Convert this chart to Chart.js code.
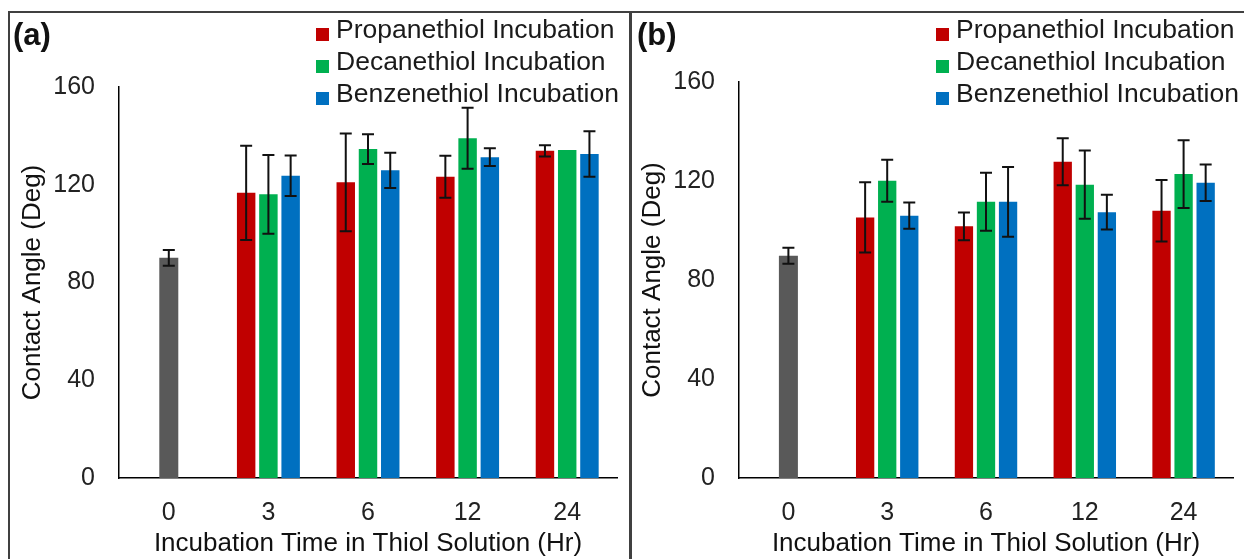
<!DOCTYPE html>
<html><head><meta charset="utf-8">
<script src="https://cdn.jsdelivr.net/npm/chart.js@4.4.1/dist/chart.umd.min.js"></script>
<style>
html,body{margin:0;padding:0;background:#fff;}
#wrap{position:relative;width:1244px;height:559px;overflow:hidden;background:#fff;font-family:'Liberation Sans',Arial,sans-serif;}
.panel{position:absolute;top:0;height:559px;}
.panel canvas{position:absolute;left:0;top:0;}
.lbl{position:absolute;font-weight:bold;font-size:31px;line-height:31px;color:#111;}
.leg{position:absolute;font-size:26.5px;line-height:32px;color:#1a1a1a;white-space:nowrap;}
.sw{position:absolute;width:13px;height:13px;}
.line{position:absolute;background:#404040;}
</style></head>
<body><div id="wrap">
 <div class="panel" id="pa" style="left:0;width:630px"><canvas id="ca" width="630" height="559"></canvas></div>
 <div class="panel" id="pb" style="left:620px;width:624px"><canvas id="cb" width="624" height="559"></canvas></div>
 <div class="line" style="left:8px;top:11px;width:1236px;height:2px"></div>
 <div class="line" style="left:8px;top:11px;width:2px;height:548px"></div>
 <div class="line" style="left:629px;top:11px;width:2.5px;height:548px"></div>
</div>
<script>
const categories = ['0', '3', '6', '12', '24'];
const seriesNames = ['Propanethiol Incubation', 'Decanethiol Incubation', 'Benzenethiol Incubation'];
const yTicks = [0, 40, 80, 120, 160];
const xTitle = 'Incubation Time in Thiol Solution (Hr)';
const yTitle = 'Contact Angle (Deg)';

// Panel (a)
const aBare    = [90.1, null, null, null, null];
const aBareErr = [3.2, null, null, null, null];
const aProp    = [null, 116.7, 121.0, 123.3, 133.9];
const aPropErr = [null, 19.3, 20.0, 8.6, 2.3];
const aDec     = [null, 116.1, 134.6, 139.0, 134.2];
const aDecErr  = [null, 16.1, 6.1, 12.5, null];
const aBen     = [null, 123.7, 125.9, 131.3, 132.6];
const aBenErr  = [null, 8.3, 7.2, 3.6, 9.3];

// Panel (b)
const bBare    = [89.8, null, null, null, null];
const bBareErr = [3.2, null, null, null, null];
const bProp    = [null, 105.3, 101.7, 127.8, 108.0];
const bPropErr = [null, 14.2, 5.6, 9.5, 12.4];
const bDec     = [null, 120.1, 111.6, 118.5, 122.8];
const bDecErr  = [null, 8.5, 11.7, 13.8, 13.7];
const bBen     = [null, 106.0, 111.6, 107.4, 119.3];
const bBenErr  = [null, 5.3, 14.1, 7.0, 7.4];

const colors = ['#C00000', '#00B050', '#0070C0'];
const bareColor = '#595959';
const FAM = "'Liberation Sans', Arial, sans-serif";

const errPlugin = {
  id: 'errbars',
  afterDatasetsDraw(chart) {
    const ctx = chart.ctx, y = chart.scales.y;
    chart.data.datasets.forEach((ds, i) => {
      if (!ds.errors) return;
      const meta = chart.getDatasetMeta(i);
      meta.data.forEach((bar, j) => {
        const v = ds.data[j], e = ds.errors[j];
        if (v == null || e == null) return;
        const x = bar.x, yt = y.getPixelForValue(v + e), yb = y.getPixelForValue(v - e);
        ctx.save();
        ctx.strokeStyle = '#111';
        ctx.lineWidth = 2;
        ctx.beginPath();
        ctx.moveTo(x, yt); ctx.lineTo(x, yb);
        ctx.moveTo(x - 6, yt); ctx.lineTo(x + 6, yt);
        ctx.moveTo(x - 6, yb); ctx.lineTo(x + 6, yb);
        ctx.stroke();
        ctx.restore();
      });
    });
  }
};

function makeChart(id, top, right, bare, bareErr, sets, errs) {
  return new Chart(document.getElementById(id), {
    type: 'bar',
    data: {
      labels: categories,
      datasets: [
        { label: 'Bare', data: bare, errors: bareErr, backgroundColor: bareColor, grouped: false, maxBarThickness: 19 },
        { label: seriesNames[0], data: sets[0], errors: errs[0], backgroundColor: colors[0] },
        { label: seriesNames[1], data: sets[1], errors: errs[1], backgroundColor: colors[1] },
        { label: seriesNames[2], data: sets[2], errors: errs[2], backgroundColor: colors[2] }
      ]
    },
    options: {
      responsive: false,
      animation: false,
      layout: { padding: { top: top, right: right, left: 0, bottom: 0 } },
      datasets: { bar: { categoryPercentage: 0.67, barPercentage: 0.83 } },
      plugins: { legend: { display: false }, tooltip: { enabled: false } },
      scales: {
        x: {
          grid: { display: false, drawTicks: false },
          border: { display: true, color: '#000', width: 1.5 },
          ticks: { font: { family: FAM, size: 25 }, color: '#222', padding: 20 },
          title: { display: true, text: xTitle, font: { family: FAM, size: 26 }, color: '#111', padding: { top: 0, bottom: 0 } },
          afterFit(s) { s.height = 81; }
        },
        y: {
          min: 0, max: 160,
          grid: { display: false, drawTicks: false },
          border: { display: true, color: '#000', width: 1.5 },
          ticks: { font: { family: FAM, size: 25 }, color: '#222', padding: 24 },
          afterBuildTicks(s) { s.ticks = yTicks.map(v => ({ value: v })); },
          title: { display: true, text: yTitle, font: { family: FAM, size: 26 }, color: '#111', padding: { top: 17, bottom: 0 } },
          afterFit(s) { s.width = 119; }
        }
      }
    },
    plugins: [errPlugin]
  });
}

function addLegend(panelId, label, labelLeft) {
  const p = document.getElementById(panelId);
  const l = document.createElement('div');
  l.className = 'lbl'; l.textContent = label;
  l.style.left = labelLeft + 'px'; l.style.top = '19px';
  p.appendChild(l);
  const rowBase = [38, 70, 102];
  seriesNames.forEach((n, i) => {
    const sw = document.createElement('div');
    sw.className = 'sw'; sw.style.background = colors[i];
    sw.style.left = '316px'; sw.style.top = (rowBase[i] - 10) + 'px';
    p.appendChild(sw);
    const t = document.createElement('div');
    t.className = 'leg'; t.textContent = n;
    t.style.left = '336px'; t.style.top = (rowBase[i] - 25) + 'px';
    p.appendChild(t);
  });
}

makeChart('ca', 87, 13, aBare, aBareErr, [aProp, aDec, aBen], [aPropErr, aDecErr, aBenErr]);
makeChart('cb', 82, 11, bBare, bBareErr, [bProp, bDec, bBen], [bPropErr, bDecErr, bBenErr]);
addLegend('pa', '(a)', 13);
addLegend('pb', '(b)', 17);
</script>
</body></html>
